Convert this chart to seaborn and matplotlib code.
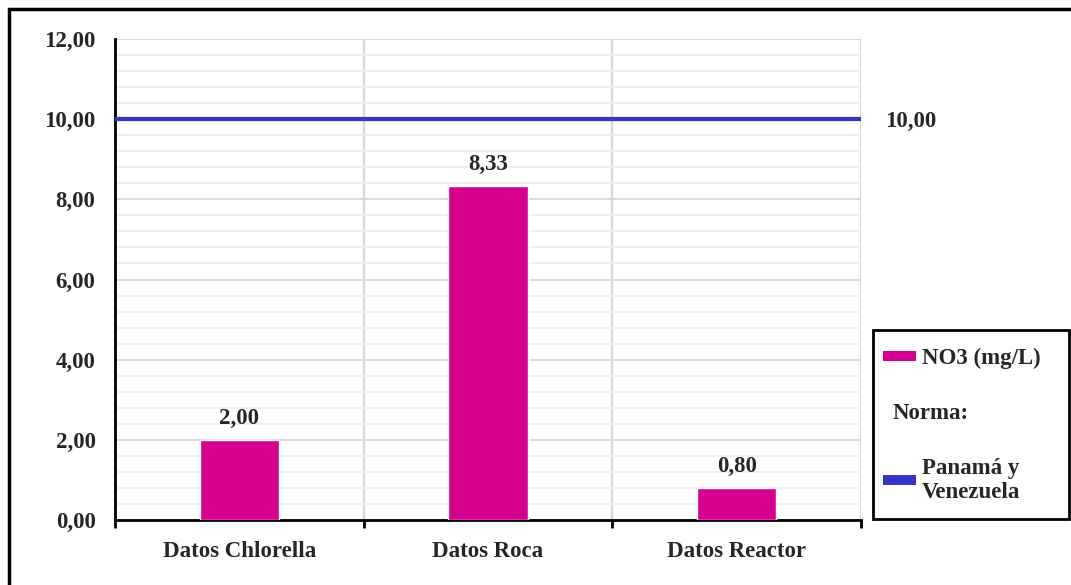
import matplotlib
matplotlib.use("Agg")
import matplotlib.pyplot as plt
from matplotlib.patches import Patch, Rectangle
from matplotlib.ticker import MultipleLocator, FixedLocator
import seaborn as sns
import pandas as pd

categories = ["Datos Chlorella", "Datos Roca", "Datos Reactor"]
no3_values = [2.00, 8.33, 0.80]
norma_value = 10.00
series_label = "NO3 (mg/L)"
norma_title = "Norma:"
norma_label = "Panamá y\nVenezuela"

bar_color = "#D6008F"
line_color = "#3434C8"

sns.set_theme(style="white")
plt.rcParams["font.family"] = ["Liberation Serif", "DejaVu Serif"]
plt.rcParams["font.weight"] = "bold"

FS = 16.5
W, H, DPI = 1071, 585, 100
fig = plt.figure(figsize=(W / DPI, H / DPI), dpi=DPI)
ax = fig.add_axes([115 / W, 1 - 520 / H, (861 - 115) / W, (520 - 39) / H])

df = pd.DataFrame({"cat": categories, "val": no3_values})
sns.barplot(data=df, x="cat", y="val", color=bar_color, width=0.32,
            saturation=1, ax=ax, zorder=3)

ax.set_xlim(-0.5, len(categories) - 0.5)
ax.set_ylim(0, 12)

# grid: major every 2, minor every 0.4, vertical lines at category borders
ax.yaxis.set_major_locator(MultipleLocator(2))
ax.yaxis.set_minor_locator(MultipleLocator(0.4))
ax.grid(axis="y", which="major", color="#D9D9D9", lw=1.4, zorder=0)
ax.grid(axis="y", which="minor", color="#EEEEEE", lw=1.2, zorder=0)
for b in [0.5, 1.5, 2.5]:
    ax.axvline(b, color="#D9D9D9", lw=1.6, zorder=0)

ax.set_yticks([0, 2, 4, 6, 8, 10, 12])
ax.set_yticklabels([f"{v:.2f}".replace(".", ",") for v in [0, 2, 4, 6, 8, 10, 12]],
                   fontsize=FS, fontweight="bold")
ax.set_xticks(range(len(categories)))
ax.set_xticklabels(categories, fontsize=FS, fontweight="bold")
ax.tick_params(axis="x", which="both", length=0, pad=15)
ax.tick_params(axis="y", which="both", length=0, pad=14)
ax.set_xlabel("")
ax.set_ylabel("")

# boundary tick marks below the x axis
ax.xaxis.set_minor_locator(FixedLocator([-0.5, 0.5, 1.5, 2.5]))
ax.tick_params(axis="x", which="minor", length=6, width=2, color="black",
               direction="out", bottom=True)

for s in ["top", "right"]:
    ax.spines[s].set_visible(False)
for s in ["left", "bottom"]:
    ax.spines[s].set_color("black")
    ax.spines[s].set_linewidth(2)

# norm line
ax.axhline(norma_value, color=line_color, lw=3, zorder=4)
ax.text(2.5 + 24 / 248, norma_value, f"{norma_value:.2f}".replace(".", ","),
        fontsize=FS, fontweight="bold", va="center_baseline", ha="left",
        clip_on=False)

# value labels
for i, v in enumerate(no3_values):
    ax.annotate(f"{v:.2f}".replace(".", ","), (i, v), xytext=(0, 8),
                textcoords="offset points", ha="center", va="bottom",
                fontsize=FS, fontweight="bold")

# legend box
lx0, ly0, lx1, ly1 = 873, 330, 1069, 519
fig.patches.append(Rectangle((lx0 / W, 1 - ly1 / H), (lx1 - lx0) / W, (ly1 - ly0) / H,
                             transform=fig.transFigure, fill=False,
                             edgecolor="black", lw=2, zorder=5))
handles = [Patch(facecolor=bar_color, edgecolor="none"),
           Patch(facecolor="none", edgecolor="none"),
           Patch(facecolor=line_color, edgecolor="none")]
labels = [series_label, norma_title, norma_label]
leg = fig.legend(handles, labels, loc="upper left",
                 bbox_to_anchor=(883 / W, 1 - 348 / H), frameon=False,
                 prop={"family": "Liberation Serif", "weight": "bold", "size": FS},
                 handlelength=1.44, handleheight=0.35, handletextpad=0.26,
                 labelspacing=1.47, borderpad=0, borderaxespad=0)
# shift the "Norma:" entry so its text starts near the handle column
leg.get_texts()[1].set_position((-29, 0))

# outer frame
fig.patches.append(Rectangle((9 / W, -0.05), 1.1, 1 - 9 / H + 0.05,
                             transform=fig.transFigure, fill=False,
                             edgecolor="black", lw=2.5, zorder=10))

fig.savefig("out.png", dpi=DPI)
